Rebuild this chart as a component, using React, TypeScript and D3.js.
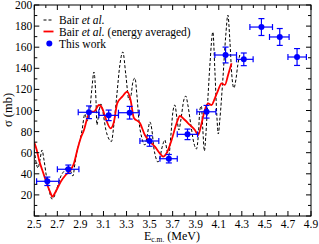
import React from "react";
import * as d3 from "d3";

const bairE = [2.50,2.515,2.532,2.549,2.567,2.584,2.610,2.636,2.653,2.671,2.697,2.731,2.766,2.792,2.818,2.835,2.853,2.870,2.896,2.913,2.939,2.957,2.974,3.000,3.017,3.035,3.043,3.061,3.078,3.095,3.121,3.147,3.169,3.190,3.216,3.242,3.268,3.294,3.321,3.338,3.355,3.373,3.390,3.407,3.433,3.459,3.477,3.503,3.520,3.537,3.555,3.572,3.589,3.607,3.633,3.650,3.667,3.685,3.702,3.719,3.737,3.754,3.771,3.797,3.814,3.832,3.858,3.884,3.906,3.923,3.936,3.949,3.962,3.975,3.988,4.005,4.023,4.049,4.066,4.083,4.096,4.109,4.135,4.161,4.179,4.196,4.213,4.231,4.248,4.265,4.282];
const bairSigma = [62.6,51.2,45.5,53.1,62.6,53.1,34.1,20.9,16.1,18.0,26.5,37.9,43.6,47.4,41.7,37.9,50.2,60.7,72.0,80.6,96.7,90.1,93.8,121.3,136.5,110.0,86.3,98.6,106.2,98.6,81.5,73.0,70.6,86.3,114.7,143.1,155.5,133.7,110.0,113.7,127.0,130.8,114.7,91.0,73.9,67.3,74.9,89.1,81.5,64.5,55.0,51.2,55.0,64.5,72.0,62.6,57.8,76.8,98.6,105.2,92.9,81.5,91.0,110.0,113.7,105.2,86.3,69.2,63.5,76.8,100.5,104.3,81.5,61.6,76.8,110.0,143.1,174.4,138.4,95.7,77.7,91.0,128.9,171.6,190.5,166.8,133.7,121.3,128.9,143.1,152.6];

const avgE = [2.50,2.521,2.541,2.569,2.613,2.642,2.656,2.685,2.729,2.772,2.815,2.844,2.873,2.902,2.931,2.959,2.983,3.017,3.061,3.089,3.119,3.162,3.191,3.219,3.263,3.306,3.335,3.364,3.416,3.459,3.503,3.546,3.589,3.618,3.647,3.691,3.734,3.763,3.806,3.849,3.893,3.921,3.951,3.979,4.008,4.037,4.066,4.095,4.124,4.153,4.181,4.211];
const avgSigma = [69.5,62.6,53.1,43.6,29.4,21.5,18.3,23.0,32.5,38.9,43.6,50.0,62.6,73.7,81.5,92.6,98.9,98.9,105.2,102.1,92.6,83.1,89.4,106.8,113.1,117.8,110.0,92.9,88.2,76.8,70.4,65.7,59.4,56.2,59.4,72.0,87.9,94.8,91.0,86.3,81.5,76.8,87.9,100.5,106.8,105.2,111.6,119.4,125.8,124.2,133.7,144.7];

const workE = [2.613,2.795,2.974,3.145,3.327,3.50,3.667,3.829,3.994,4.159,4.317,4.47,4.629,4.779];
const workSigma = [32.9,44.3,98.3,95.4,97.9,71.1,54.3,77.4,98.8,152.6,148.5,179.1,169.7,150.7];
const workELo = [2.52,2.70,2.881,3.06,3.23,3.416,3.59,3.74,3.91,4.066,4.254,4.37,4.54,4.70];
const workEHi = [2.714,2.887,3.06,3.23,3.41,3.58,3.74,3.916,4.075,4.254,4.398,4.566,4.71,4.86];
const workErr = [4,4,6,5,6,5,4,5,6,7.5,6,8,8,8];

const xTicks = [2.5,2.7,2.9,3.1,3.3,3.5,3.7,3.9,4.1,4.3,4.5,4.7,4.9];
const yTicks = [20,40,60,80,100,120,140,160,180,200];

const W = 319, H = 244;
const L = 34.3, R = 311, T = 5, B = 216;
const font = "'Liberation Serif','Times New Roman',serif";

export default function App() {
  const x = d3.scaleLinear().domain([2.5, 4.9]).range([L, R]);
  const y = d3.scaleLinear().domain([0, 200]).range([B, T]);
  const bair = bairE.map((e, i) => [e, bairSigma[i]] as [number, number]);
  const avg = avgE.map((e, i) => [e, avgSigma[i]] as [number, number]);
  const line = d3.line<[number, number]>().x(d => x(d[0])).y(d => y(d[1])).curve(d3.curveMonotoneX);
  const minorX = d3.range(25, 50, 1).map(v => v / 10);
  const minorY = d3.range(0, 201, 10);
  const blue = "#0000ff";
  return (
    <svg width={W} height={H} style={{ position: "absolute", left: 0, top: 0, background: "#fff" }}>
      <rect x={0} y={0} width={W} height={H} fill="#fff" />
      <defs>
        <clipPath id="clip"><rect x={L} y={T} width={R - L} height={B - T} /></clipPath>
      </defs>
      <g clipPath="url(#clip)">
        <path d={line(bair) || ""} fill="none" stroke="#000" strokeWidth={1} strokeDasharray="3,2" />
        <path d={line(avg) || ""} fill="none" stroke="#ff0000" strokeWidth={1.8} />
      </g>
      {workE.map((e, i) => (
        <g key={i} stroke={blue} strokeWidth={1.2}>
          <line x1={x(workELo[i])} x2={x(workEHi[i])} y1={y(workSigma[i])} y2={y(workSigma[i])} />
          <line x1={x(workELo[i])} x2={x(workELo[i])} y1={y(workSigma[i]) - 3} y2={y(workSigma[i]) + 3} />
          <line x1={x(workEHi[i])} x2={x(workEHi[i])} y1={y(workSigma[i]) - 3} y2={y(workSigma[i]) + 3} />
          <line x1={x(e)} x2={x(e)} y1={y(workSigma[i] - workErr[i])} y2={y(workSigma[i] + workErr[i])} />
          <line x1={x(e) - 3} x2={x(e) + 3} y1={y(workSigma[i] - workErr[i])} y2={y(workSigma[i] - workErr[i])} />
          <line x1={x(e) - 3} x2={x(e) + 3} y1={y(workSigma[i] + workErr[i])} y2={y(workSigma[i] + workErr[i])} />
          <circle cx={x(e)} cy={y(workSigma[i])} r={3} fill={blue} stroke="none" />
        </g>
      ))}
      <rect x={L} y={T} width={R - L} height={B - T} fill="none" stroke="#000" strokeWidth={1} />
      <g stroke="#000" strokeWidth={1}>
        {minorX.map((v, i) => {
          const len = Math.abs(Math.round(v * 10) % 2) === 1 ? 5 : 3;
          return (
            <g key={"mx" + i}>
              <line x1={x(v)} x2={x(v)} y1={B} y2={B - len} />
              <line x1={x(v)} x2={x(v)} y1={T} y2={T + len} />
            </g>
          );
        })}
        {minorY.map((v, i) => {
          const len = v % 20 === 0 ? 5 : 3;
          return (
            <g key={"my" + i}>
              <line x1={L} x2={L + len} y1={y(v)} y2={y(v)} />
              <line x1={R} x2={R - len} y1={y(v)} y2={y(v)} />
            </g>
          );
        })}
      </g>
      <g fontFamily={font} fontSize={11.5} fill="#000">
        {xTicks.map((v, i) => (
          <text key={"xt" + i} x={x(v)} y={B + 12} textAnchor="middle">{v.toFixed(1)}</text>
        ))}
        {yTicks.map((v, i) => (
          <text key={"yt" + i} x={L - 2} y={y(v) + 4} textAnchor="end">{v}</text>
        ))}
      </g>
      <text fontFamily={font} fontSize={12} x={144} y={239.5}>
        E<tspan fontSize={7.5} dy={2.5}>c.m.</tspan><tspan dy={-2.5}> (MeV)</tspan>
      </text>
      <text fontFamily={font} fontSize={12.5} transform={`translate(12,110) rotate(-90)`} textAnchor="middle">σ (mb)</text>
      <g fontFamily={font} fontSize={11.5}>
        <line x1={43.5} x2={53.5} y1={20} y2={20} stroke="#000" strokeWidth={1} strokeDasharray="3,2" />
        <text x={59} y={24}>Bair <tspan fontStyle="italic">et al.</tspan></text>
        <line x1={43.5} x2={53.5} y1={31.5} y2={31.5} stroke="#ff0000" strokeWidth={1.8} />
        <text x={59} y={35.5}>Bair <tspan fontStyle="italic">et al.</tspan> (energy averaged)</text>
        <circle cx={49.3} cy={43.5} r={3} fill={blue} />
        <text x={59} y={47.5}>This work</text>
      </g>
    </svg>
  );
}
